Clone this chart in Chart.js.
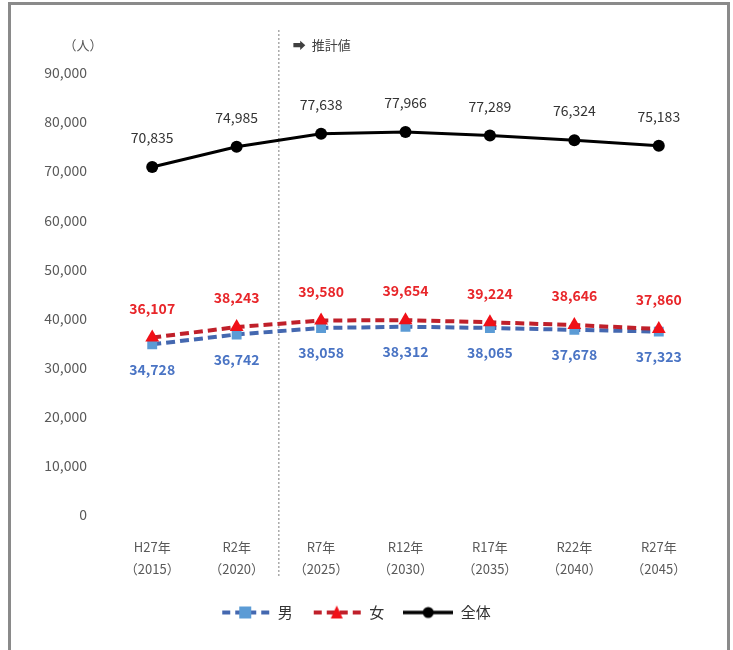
<!DOCTYPE html>
<html>
<head>
<meta charset="utf-8">
<script src="https://cdn.jsdelivr.net/npm/chart.js@4"></script>
<style>
  body { margin: 0; background: #fff; }
  #wrap { position: relative; width: 733px; height: 650px; }
  #frame { position: absolute; left: 8px; top: 2px; width: 722px; height: 660px; border: 3px solid #8a8a8a; box-sizing: border-box; pointer-events: none; }
</style>
</head>
<body>
<div id="wrap">
  <canvas id="popChart"></canvas>
  <div id="frame"></div>
</div>
<script>
// data
const years = [
    ["H27年", "（2015）"], ["R2年", "（2020）"], ["R7年", "（2025）"], ["R12年", "（2030）"],
    ["R17年", "（2035）"], ["R22年", "（2040）"], ["R27年", "（2045）"]
];
const male   = [34728, 36742, 38058, 38312, 38065, 37678, 37323];
const female = [36107, 38243, 39580, 39654, 39224, 38646, 37860];
const total  = [70835, 74985, 77638, 77966, 77289, 76324, 75183];
const yTicks = [0, 10000, 20000, 30000, 40000, 50000, 60000, 70000, 80000, 90000];

const FONT = "'Noto Sans CJK JP', 'Noto Sans', sans-serif";

// little canvas for each legend entry: line + marker
function legendIcon(color, pointColor, dashed, style) {
    const c = document.createElement("canvas");
    c.width = 50; c.height = 18;
    const ctx = c.getContext("2d");
    ctx.strokeStyle = color;
    ctx.lineWidth = dashed ? 4 : 3.5;
    ctx.setLineDash(dashed ? [8, 5] : []);
    ctx.beginPath();
    ctx.moveTo(dashed ? 2 : 0, 9);
    ctx.lineTo(50, 9);
    ctx.stroke();
    ctx.setLineDash([]);
    ctx.fillStyle = pointColor;
    ctx.beginPath();
    if (style === "rect") {
        ctx.fillRect(19, 3, 12, 12);
    } else if (style === "triangle") {
        ctx.moveTo(25, 2); ctx.lineTo(31, 15); ctx.lineTo(19, 15); ctx.closePath(); ctx.fill();
    } else {
        ctx.arc(25, 9, 5.5, 0, Math.PI * 2); ctx.fill();
    }
    return c;
}

const valueLabels = {
    id: "valueLabels",
    afterDatasetsDraw(chart) {
        const ctx = chart.ctx;
        ctx.save();
        ctx.textAlign = "center";
        ctx.textBaseline = "middle";
        chart.data.datasets.forEach((ds, i) => {
            const meta = chart.getDatasetMeta(i);
            ctx.fillStyle = ds.labelColor;
            ctx.font = ds.labelFont;
            meta.data.forEach((pt, j) => {
                ctx.fillText(ds.data[j].toLocaleString("en-US"), pt.x, pt.y + ds.labelOffset);
            });
        });
        ctx.restore();
    }
};

const extras = {
    id: "extras",
    beforeDatasetsDraw(chart) {
        const ctx = chart.ctx;
        const x = chart.scales.x;
        const mid = (x.getPixelForValue(1) + x.getPixelForValue(2)) / 2;
        ctx.save();
        ctx.strokeStyle = "#7f7f7f";
        ctx.lineWidth = 1;
        ctx.setLineDash([2, 2]);
        ctx.beginPath();
        ctx.moveTo(mid, 30);
        ctx.lineTo(mid, 578);
        ctx.stroke();
        ctx.setLineDash([]);
        ctx.fillStyle = "#404040";
        ctx.font = "13px " + FONT;
        ctx.textBaseline = "middle";
        ctx.textAlign = "left";
        ctx.fillText("➡  推計値", mid + 14, 45);
        ctx.textAlign = "center";
        ctx.fillStyle = "#595959";
        ctx.fillText("（人）", 83, 45);
        ctx.restore();
    }
};

new Chart(document.getElementById("popChart"), {
    type: "line",
    data: {
        labels: years,
        datasets: [
            {
                label: "男", data: male, order: 3,
                borderColor: "#4468b0", borderWidth: 4, borderDash: [9, 5],
                pointStyle: "rect", pointRadius: 7, pointBackgroundColor: "#5b9bd5", pointBorderWidth: 0,
                labelColor: "#4a74c4", labelFont: "bold 14px " + FONT, labelOffset: 25,
                icon: legendIcon("#4468b0", "#5b9bd5", true, "rect")
            },
            {
                label: "女", data: female, order: 2,
                borderColor: "#c0202a", borderWidth: 4, borderDash: [9, 5],
                pointStyle: "triangle", pointRadius: 8, pointBackgroundColor: "#f01018", pointBorderWidth: 0,
                labelColor: "#e8262a", labelFont: "bold 14px " + FONT, labelOffset: -29,
                icon: legendIcon("#c0202a", "#f01018", true, "triangle")
            },
            {
                label: "全体", data: total, order: 1,
                borderColor: "#000", borderWidth: 3,
                pointStyle: "circle", pointRadius: 6, pointBackgroundColor: "#000", pointBorderWidth: 0,
                labelColor: "#333", labelFont: "14px " + FONT, labelOffset: -29,
                icon: legendIcon("#000", "#000", false, "circle")
            }
        ]
    },
    options: {
        responsive: true,
        maintainAspectRatio: false,
        animation: false,
        layout: { padding: { left: 10, right: 32, top: 73, bottom: 20 } },
        scales: {
            x: {
                offset: true,
                afterFit: scale => { scale.height -= 7; },
                grid: { display: false },
                border: { display: false },
                ticks: {
                    color: "#595959", font: { family: FONT, size: 13, lineHeight: 1.7 },
                    padding: 13, maxRotation: 0, autoSkip: false
                }
            },
            y: {
                min: 0, max: 90000,
                afterBuildTicks: scale => { scale.ticks = yTicks.map(v => ({ value: v })); },
                afterFit: scale => { scale.width = 100; },
                grid: { display: false },
                border: { display: false },
                ticks: {
                    color: "#595959", font: { family: FONT, size: 14 }, padding: 15,
                    callback: v => v.toLocaleString("en-US")
                }
            }
        },
        plugins: {
            legend: {
                position: "bottom",
                labels: {
                    usePointStyle: true, pointStyleWidth: 50, padding: 19,
                    color: "#333", font: { family: FONT, size: 15 },
                    generateLabels: chart => chart.data.datasets.map((ds, i) => ({
                        text: ds.label, pointStyle: ds.icon, datasetIndex: i,
                        fillStyle: ds.borderColor, strokeStyle: ds.borderColor, lineWidth: 0,
                        fontColor: "#333"
                    }))
                }
            },
            tooltip: { enabled: false }
        }
    },
    plugins: [extras, valueLabels]
});
</script>
</body>
</html>
